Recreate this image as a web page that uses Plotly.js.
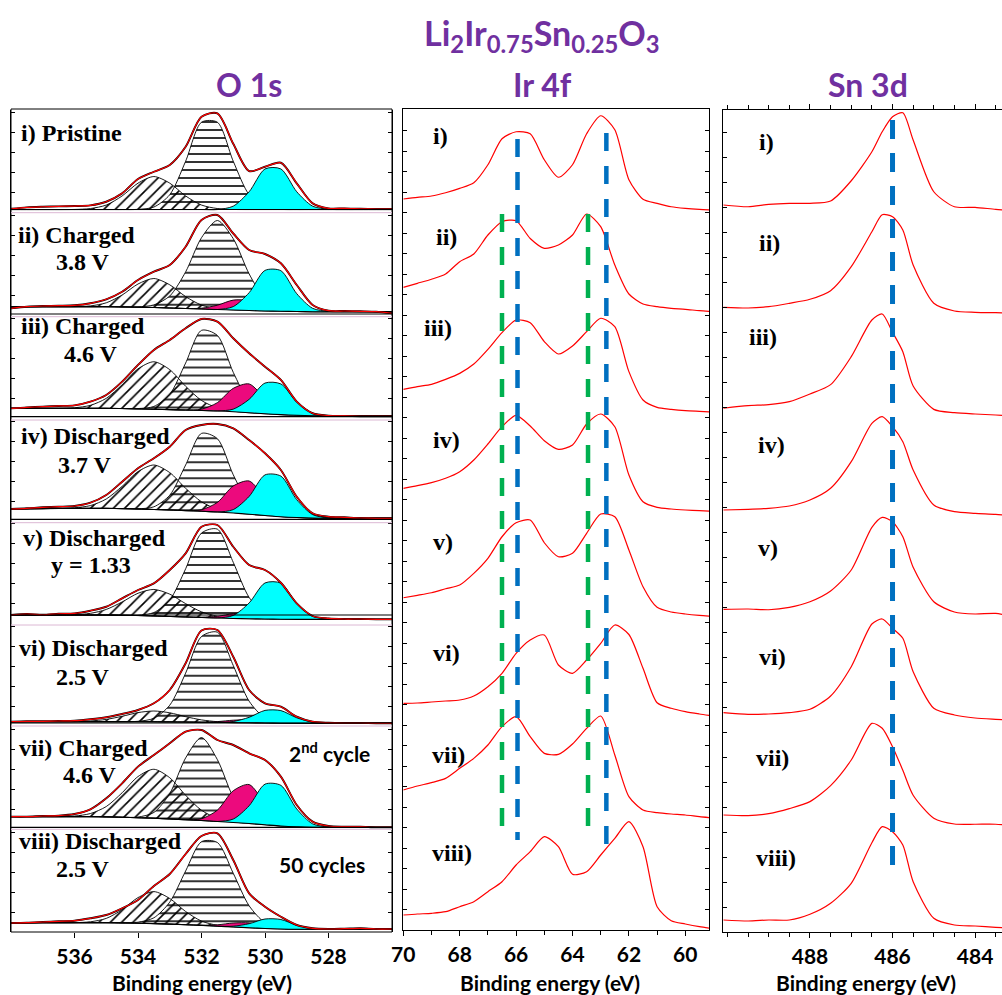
<!DOCTYPE html>
<html><head><meta charset="utf-8">
<script src="https://cdn.plot.ly/plotly-3.0.1.min.js"></script>
<style>html,body{margin:0;padding:0;overflow:hidden;background:#fff;width:1002px;height:995px}#chart{width:1040px;height:995px}</style>
</head><body><div id="chart"></div><script>
// ---------------- DATA ----------------
const oEnergy = [538,537.5,537,536.5,536,535.5,535,534.5,534,533.5,533,532.5,532,531.5,531,530.5,530,529.5,529,528.5,528,527.5,527,526.5,526];
const o1sData = [
 [4,5.4,6,6.4,6.7,7.4,11,19.4,33.7,41,47.8,66,96,99.4,69,41.7,46,50,29.4,9.4,4.4,4.4,4,3.7,3.7],
 [7.2,8.8,9.5,9.8,10.2,12.2,16.2,23.8,35.5,43.8,50.5,68.8,95.5,100.5,82,65.5,61.5,52.2,30.5,10.5,4.8,4.5,4.2,3.8,2.2],
 [9.9,10.9,11.6,12.3,12.9,16.6,23.3,36.6,53.3,68.3,78.3,90,99.3,96.6,80,65,51.6,38.3,16.6,5,2.6,2.3,2,2,2],
 [12,12.7,13.7,14.3,15,18.3,26,39.3,52.7,62.7,74.3,91,96,97,92.7,81,67.7,51,24.3,7.7,4.3,3.7,3,2.7,2.7],
 [8.75,9.75,9,10,10.4,13,17,25.4,33.75,40.4,53.75,70.4,97,98.75,77,58.75,53.75,41,20.4,7.75,5.4,4.75,4.75,4.4,4.4],
 [4.8,5.2,5.2,5.5,5.8,7.2,9.2,12.5,16.5,23.2,36.5,63.2,96,96.5,69.8,36.5,23.2,19.8,9.8,4.8,3.8,3.5,3.5,3.2,3.2],
 [12.6,12.6,13.25,13.6,15.25,19.9,30.9,45.9,62.6,74.25,85.9,97.6,99.25,89.25,84.25,75.9,69.25,52.6,24.25,7.6,3.25,2.6,2.6,1.9,1.9],
 [9,9.3,10,10.7,11.3,13.7,17,23.7,32,46,58,78,96,98.7,72,38.7,25.3,15.3,7,3.7,3,3.3,3.7,3,3]
];
const o1sBg = [
 [3.2,3.2,3.2,3.2,3.2,3.2,3.2,3.2,3.2,3.2,3.2,3.2,3.2,3.2,3.2,3.2,3.2,3.2,3.2,3.2,3.2,3.2,3.2,3.2,3.2],
 [8.8,8.8,8.8,8.8,8.8,8.8,8.8,8.6,8.3,8,7.5,7,6.5,6,5.5,5,4.5,4.2,4,3.8,3.8,3.8,3.8,3.8,3.8],
 [9.9,9.9,9.9,9.9,9.9,9.9,9.9,9.7,9.4,9,8.6,8.2,7.8,7.3,6.5,5.5,4.5,3.6,3,2.5,2.3,2.3,2.3,2.3,2.3],
 [12,12.2,12.4,12.5,12.6,12.6,12.6,12.4,12,11.5,11,10.4,9.8,9,8,6.8,5.5,4.3,3.5,3,2.7,2.7,2.7,2.7,2.7],
 [8.7,8.7,8.7,8.7,8.7,8.7,8.7,8.5,8.2,7.8,7.3,6.8,6.3,5.8,5.3,5,4.7,4.5,4.4,4.4,4.4,4.4,4.4,4.4,4.4],
 [4.8,4.8,4.8,4.8,4.8,4.8,4.8,4.8,4.8,4.7,4.6,4.45,4.3,4.1,3.9,3.7,3.5,3.3,3.2,3.2,3.2,3.2,3.2,3.2,3.2],
 [12.6,12.6,12.6,12.6,12.6,12.6,12.4,12,11.5,11,10.3,9.5,8.7,7.8,6.8,5.7,4.5,3.3,2.5,2,1.9,1.9,1.9,1.9,1.9],
 [9.3,9.3,9.3,9.3,9.3,9.3,9.3,9.1,8.8,8.4,7.9,7.3,6.6,5.8,5,4.2,3.5,3,2.7,2.7,2.7,2.7,2.7,2.7,2.7]
];
const o1sDiag = [
 [0,0,0,0,0.1,1,4.5,13.6,26.4,33,26.4,13.6,4.5,1,0.1,0,0,0,0,0,0,0,0,0,0],
 [0,0,0,0,0.1,0.8,3.9,11.9,23.2,29,23.2,11.9,3.9,0.8,0.1,0,0,0,0,0,0,0,0,0,0],
 [0,0,0,0,0.6,3,10,23.8,40,47.5,40,23.8,10,3,0.6,0,0,0,0,0,0,0,0,0,0],
 [0,0,0,0,0.6,2.8,9.4,22.3,37.4,44.5,37.4,22.3,9.4,2.8,0.6,0,0,0,0,0,0,0,0,0,0],
 [0,0,0,0,0.3,1.7,5.6,13.3,22.3,26.5,22.3,13.3,5.6,1.7,0.3,0,0,0,0,0,0,0,0,0,0],
 [0,0,0,0,0.1,0.7,2.3,5.4,9.1,10.8,9.1,5.4,2.3,0.7,0.1,0,0,0,0,0,0,0,0,0,0],
 [0,0,0,0,0.6,3.1,10.3,24.5,41.2,49,41.2,24.5,10.3,3.1,0.6,0,0,0,0,0,0,0,0,0,0],
 [0,0,0,0,0.1,0.9,4.3,13.2,25.6,32,25.6,13.2,4.3,0.9,0.1,0,0,0,0,0,0,0,0,0,0]
];
const o1sHoriz = [
 [0,0,0,0,0,0,0,0,0.2,2.5,14.8,48.3,87.3,87.3,48.3,14.8,2.5,0.2,0,0,0,0,0,0,0],
 [0,0,0,0,0,0,0,0,0.4,2.6,12,36.6,71.3,89,71.3,36.6,12,2.6,0.4,0,0,0,0,0,0],
 [0,0,0,0,0,0,0,0,0.3,2.8,15.3,47,80.1,75.5,39.4,11.4,1.8,0.2,0,0,0,0,0,0,0],
 [0,0,0,0,0,0,0,0,0.2,2.7,14.8,45.6,77.8,73.3,38.2,11,1.8,0.2,0,0,0,0,0,0,0],
 [0,0,0,0,0,0,0,0,0.4,3.4,16.5,48.1,84.4,88.8,56.1,21.3,4.8,0.7,0,0,0,0,0,0,0],
 [0,0,0,0,0,0,0,0,0.4,3.5,16.7,48.9,85.7,90.2,57.1,21.6,4.9,0.7,0,0,0,0,0,0,0],
 [0,0,0,0,0,0,0,0,0.7,5.8,25.4,61.8,83,61.8,25.4,5.8,0.7,0,0,0,0,0,0,0,0],
 [0,0,0,0,0,0,0,0.1,1,5.8,22,53.7,83.7,83.7,53.7,22,5.8,1,0.1,0,0,0,0,0,0]
];
const o1sMag = [
 [0,0,0,0,0,0,0,0,0,0,0,0,0,0,0,0,0,0,0,0,0,0,0,0,0],
 [0,0,0,0,0,0,0,0,0,0,0,0,0.8,4.3,9.9,9.9,4.3,0.8,0,0,0,0,0,0,0],
 [0,0,0,0,0,0,0,0,0,0,0,0,1.3,8.3,23.4,28.8,15.5,3.7,0.4,0,0,0,0,0,0],
 [0,0,0,0,0,0,0,0,0,0,0,0,1.5,9.6,27,33.2,17.8,4.2,0.4,0,0,0,0,0,0],
 [0,0,0,0,0,0,0,0,0,0,0,0,0.3,1.7,4.8,5.9,3.1,0.7,0.1,0,0,0,0,0,0],
 [0,0,0,0,0,0,0,0,0,0,0,0,0,0.8,2.4,2.9,1.6,0.4,0,0,0,0,0,0,0],
 [0,0,0,0,0,0,0,0,0,0,0,0,1.8,11.3,31.7,39,21,5,0.5,0,0,0,0,0,0],
 [0,0,0,0,0,0,0,0,0,0,0,0,0.2,1.4,4,4.9,2.6,0.6,0.1,0,0,0,0,0,0]
];
const o1sCyan = [
 [0,0,0,0,0,0,0,0,0,0,0,0,0,0,3.4,17.8,40.6,40.6,17.8,3.4,0.3,0,0,0,0],
 [0,0,0,0,0,0,0,0,0,0,0,0,0,0,3.4,17.8,40.6,40.6,17.8,3.4,0.3,0,0,0,0],
 [0,0,0,0,0,0,0,0,0,0,0,0,0,0,2.6,13.4,30.7,30.7,13.4,2.6,0.2,0,0,0,0],
 [0,0,0,0,0,0,0,0,0,0,0,0,0,0,3.4,17.8,40.6,40.6,17.8,3.4,0.3,0,0,0,0],
 [0,0,0,0,0,0,0,0,0,0,0,0,0,0,3,15.8,36.1,36.1,15.8,3,0.2,0,0,0,0],
 [0,0,0,0,0,0,0,0,0,0,0,0,0,0,1.1,5.5,12.6,12.6,5.5,1.1,0.1,0,0,0,0],
 [0,0,0,0,0,0,0,0,0,0,0,0,0,0,3.4,17.8,40.6,40.6,17.8,3.4,0.3,0,0,0,0],
 [0,0,0,0,0,0,0,0,0,0,0,0,0,0,0.8,4.1,9.5,9.5,4.1,0.8,0.1,0,0,0,0]
];
const o1sTicks = [536,534,532,530,528];
const o1sLabels = ['i) Pristine','ii) Charged','iii) Charged','iv) Discharged','v) Discharged','vi) Discharged','vii) Charged','viii) Discharged'];
const o1sSubLabels = ['','3.8 V','4.6 V','3.7 V','y = 1.33','2.5 V','4.6 V','2.5 V'];
const o1sNotes = ['2<sup>nd</sup> cycle','50 cycles'];

const irEnergy = [70,69.5,69,68.5,68,67.5,67,66.5,66,65.5,65,64.5,64,63.5,63,62.5,62,61.5,61,60.5,60,59.5,59];
const irSpectra = [
 [13.75,15.4,16.75,20,24.4,30,48,74,81,79,53,35.5,48,79,97,83,33,13.5,9.4,6,4.4,3.4,2.75],
 [28.2,32.2,36.2,41.5,53.8,61.5,80.5,93.8,94.8,77,67.2,70.5,80.5,101.5,88.8,50.5,21.5,11.5,8.8,7.2,6.2,4.8,3.8],
 [28.9,31.6,33.9,38.9,44.9,54.2,68.9,85.6,98.25,95.6,76.6,64.25,72.25,86.6,100,91.6,46.6,18.25,10.9,8.9,7.6,6.9,6.25],
 [32.7,35.3,38.3,42.7,49.3,61,77,94.3,105.7,95,80.3,71.7,76,97,107,94.3,46,19.3,13.7,12,11,10.3,9.7],
 [26,28.4,31,35,38.75,50.4,65.4,87,101,103.75,81,67,70.4,90.4,109.75,107,73.75,37,16.4,11.75,9.75,8.4,7.4],
 [23.2,23.5,24.5,25.5,26.5,30.5,39.8,53.2,73.2,86.5,91.5,61.5,53.2,66.5,83.2,101.5,92,58.2,23.8,18.2,14.8,12.5,10.5],
 [39.25,43.25,46.6,50.9,60.9,70.9,84.25,102.6,112.6,92.6,75.9,74.9,85.25,100.9,113.25,74.25,32.6,19.25,16.6,15.25,14.25,12.6,11.25],
 [17,18,18.7,20.3,25.3,30.3,40.3,50.3,67,80.3,95.3,85.3,57.7,60.3,77,93.7,110.3,85.3,25.3,11.3,8,5.3,3.3]
];
const irTicks = [70,68,66,64,62,60];
const irBlueLines = [65.95, 62.8];
const irGreenLines = [66.5, 63.45];

const snEnergy = [490.1,489.5,489,488.5,488,487.5,487,486.5,486.25,486,485.75,485.5,485,484.5,484,483.5,483];
const snSpectra = [
 [7.75,6,8.4,9.4,9.4,11.75,32,61,81,96,100,72.75,21,6,5.4,3.4,2],
 [8.2,7.5,8.8,12.2,16.2,24.8,48.8,83.8,100.8,98.8,85.5,50.5,12.2,4.5,3.2,2.8,2.5],
 [10,12.6,13.6,16.6,24.25,33.6,61.6,98.25,104.25,86,66.6,32.25,8.9,5.6,4.25,3.25,2.25],
 [11,11.7,12.7,15,21,32.7,59.3,97.7,104.3,94.3,79.3,51,16,9.3,7.7,6.7,5],
 [14.4,14.75,14,16.4,22,32.75,53.75,96.4,106.4,102,87,56.4,22,11.75,9.75,10.4,6.4],
 [13.8,12.2,12.5,13.8,17.2,30.5,59.8,102.5,107.5,98.2,88.2,54.8,18.2,11.5,8.5,7.2,6.2],
 [14.25,13.6,15.6,20.6,27.6,43.6,69.25,105.9,101,82.6,59,34,11,5.25,5,5,3.25],
 [12,11,12,12,17.7,28.7,48.7,89.3,105.3,100.3,87,50.3,13.7,7,6,4.7,3.7]
];
const snTicks = [488,486,484];
const snBlueLines = [486.0];
const romanLabels = ['i)','ii)','iii)','iv)','v)','vi)','vii)','viii)'];
const axisTitle = 'Binding energy (eV)';

// ---------------- LAYOUT / STYLE ----------------
const W = 1040, H = 995;
const px2x = p => p / W;
const px2y = p => 1 - p / H;
const sliceTop = 110, sliceH = 102.75;
const SANS = 'Lato, "Open Sans", sans-serif';
const SERIF = '"Liberation Serif", "Times New Roman", serif';
const PURPLE = '#7030A0';
const tickFont = {family: SANS, size: 21, color: '#000', weight: 700};
const axTitleFont = {family: SANS, size: 21, color: '#000', weight: 700};
const labFont = {family: SERIF, size: 24, color: '#000', weight: 700};

const traces = [];
const shapes = [];
const annotations = [];
const layout = {
  width: W, height: H, margin: {l: 0, r: 0, t: 0, b: 0},
  paper_bgcolor: '#fff', plot_bgcolor: 'rgba(0,0,0,0)', showlegend: false,
  shapes: shapes, annotations: annotations
};

// ---- O 1s panel ----
layout.xaxis = {
  domain: [px2x(11), px2x(392)], range: [538, 526], anchor: 'y8',
  tickmode: 'array', tickvals: o1sTicks, ticks: 'outside', ticklen: 5, tickcolor: '#000',
  showline: false, showgrid: false, zeroline: false, tickfont: tickFont, ticklabelstandoff: 1
};
const spl = {shape: 'spline', smoothing: 0.8};
for (let k = 0; k < 8; k++) {
  const B = sliceTop + (k + 1) * sliceH;
  const yname = k === 0 ? 'yaxis' : 'yaxis' + (k + 1);
  const yref = k === 0 ? 'y' : 'y' + (k + 1);
  layout[yname] = {
    domain: [px2y(B), px2y(B - sliceH)], range: [0, sliceH], anchor: 'x',
    showticklabels: false, ticks: 'inside', ticklen: 4, tick0: 0, dtick: 20, tickcolor: '#000',
    showline: true, linecolor: '#000', linewidth: 1, mirror: 'ticks',
    showgrid: false, zeroline: false, fixedrange: true
  };
  const bg = o1sBg[k];
  const comps = [
    {vals: o1sHoriz[k], style: {fillcolor: 'rgba(0,0,0,0)', fillpattern: {shape: '-', fgcolor: '#000', bgcolor: 'rgba(255,255,255,0)', size: 8, solidity: 0.2}}},
    {vals: o1sDiag[k], style: {fillcolor: 'rgba(0,0,0,0)', fillpattern: {shape: '/', fgcolor: '#000', bgcolor: 'rgba(255,255,255,0)', size: 8, solidity: 0.2}}},
    {vals: o1sMag[k], style: {fillcolor: '#ec0a7d'}},
    {vals: o1sCyan[k], style: {fillcolor: '#00ffff'}}
  ];
  comps.forEach(c => {
    if (c.vals.every(v => v === 0)) return;
    traces.push({x: oEnergy, y: bg, xaxis: 'x', yaxis: yref, mode: 'lines',
      line: Object.assign({width: 0, color: 'rgba(0,0,0,0)'}, spl), hoverinfo: 'skip'});
    traces.push(Object.assign({x: oEnergy, y: bg.map((b, i) => b + c.vals[i]), xaxis: 'x', yaxis: yref,
      mode: 'lines', fill: 'tonexty', line: Object.assign({color: '#000', width: 0.9}, spl), hoverinfo: 'skip'}, c.style));
  });
  traces.push({x: oEnergy, y: bg, xaxis: 'x', yaxis: yref, mode: 'lines', line: Object.assign({color: '#000', width: 1.1}, spl), hoverinfo: 'skip'});
  traces.push({x: oEnergy, y: o1sData[k], xaxis: 'x', yaxis: yref, mode: 'lines', line: Object.assign({color: '#000', width: 1.9}, spl), hoverinfo: 'skip'});
  traces.push({x: oEnergy, y: o1sData[k], xaxis: 'x', yaxis: yref, mode: 'lines', line: Object.assign({color: '#ff0000', width: 1.2}, spl), name: o1sLabels[k]});
}
// O1s box + separators
shapes.push({type: 'rect', xref: 'paper', yref: 'paper', x0: px2x(11), x1: px2x(392), y0: px2y(932), y1: px2y(109), line: {color: '#000', width: 1}});
[209.5, 314, 416.7, 519.3, 615, 723, 827.3].forEach(p => shapes.push({type: 'line', xref: 'paper', yref: 'paper', x0: px2x(11), x1: px2x(392), y0: px2y(p), y1: px2y(p), line: {color: '#000', width: 1.2}}));
[212.7, 316.7, 420, 522.7, 625, 726, 829.3].forEach(p => shapes.push({type: 'line', xref: 'paper', yref: 'paper', x0: px2x(11), x1: px2x(392), y0: px2y(p), y1: px2y(p), line: {color: '#dcb8d4', width: 1}}));

const o1sLabelPos = [[20,140],[17,241.7],[20,333],[20,443],[22,545],[18,655],[18,755],[18,848]];
const o1sSubPos = [null,[55,269],[63,361],[57,472],[50,572],[55,684],[62,782],[55,876]];
o1sLabels.forEach((t, k) => {
  annotations.push({text: t, xref: 'paper', yref: 'paper', x: px2x(o1sLabelPos[k][0]), y: px2y(o1sLabelPos[k][1] - 7), xanchor: 'left', yanchor: 'middle', showarrow: false, font: labFont, borderpad: 0});
  if (o1sSubLabels[k]) annotations.push({text: o1sSubLabels[k], xref: 'paper', yref: 'paper', x: px2x(o1sSubPos[k][0]), y: px2y(o1sSubPos[k][1] - 7), xanchor: 'left', yanchor: 'middle', showarrow: false, font: labFont, borderpad: 0});
});
annotations.push({text: o1sNotes[0], xref: 'paper', yref: 'paper', x: px2x(329.5), y: px2y(752), xanchor: 'center', yanchor: 'middle', showarrow: false, font: {family: SANS, size: 21, color: '#000', weight: 700}});
annotations.push({text: o1sNotes[1], xref: 'paper', yref: 'paper', x: px2x(322), y: px2y(864), xanchor: 'center', yanchor: 'middle', showarrow: false, font: {family: SANS, size: 21, color: '#000', weight: 700}});

// ---- Ir 4f panel ----
layout.xaxis2 = {
  domain: [px2x(403.3), px2x(709)], range: [70, 59.16], anchor: 'y9',
  tickmode: 'array', tickvals: irTicks, ticks: 'outside', ticklen: 5, tickcolor: '#000',
  minor: {dtick: 1, tick0: 60, ticks: 'outside', ticklen: 4, tickcolor: '#000'},
  showline: true, mirror: true, linecolor: '#000', linewidth: 1,
  showgrid: false, zeroline: false, tickfont: tickFont, ticklabelstandoff: 1
};
layout.yaxis9 = {
  domain: [px2y(930), px2y(109)], range: [0, 821], anchor: 'x2',
  showticklabels: false, ticks: 'inside', ticklen: 4, tick0: 0, dtick: 20.5, tickcolor: '#000',
  showline: true, linecolor: '#000', mirror: 'ticks', showgrid: false, zeroline: false
};
irSpectra.forEach((s, k) => {
  const off = 717.25 - k * sliceH;
  traces.push({x: irEnergy, y: s.map(v => v + off), xaxis: 'x2', yaxis: 'y9', mode: 'lines',
    line: {color: '#ff0000', width: 1.2, shape: 'spline', smoothing: 0.7}, name: romanLabels[k]});
});
const dashPat = '18px,15px';
irBlueLines.forEach((e, i) => shapes.push({type: 'line', xref: 'x2', yref: 'paper', x0: e, x1: e, y0: px2y(i === 0 ? 139 : 133), y1: px2y(i === 0 ? 840 : 844), line: {color: '#0070C0', width: 4.5, dash: dashPat}}));
irGreenLines.forEach(e => shapes.push({type: 'line', xref: 'x2', yref: 'paper', x0: e, x1: e, y0: px2y(214), y1: px2y(828), line: {color: '#00B050', width: 4.5, dash: dashPat}}));
const irLabelPos = [[431.7,136],[435,236.7],[423.3,328.3],[432.3,440],[431.7,541.7],[431.7,653.3],[431,755],[431,853.3]];
romanLabels.forEach((t, k) => annotations.push({text: t, xref: 'paper', yref: 'paper', x: px2x(irLabelPos[k][0]), y: px2y(irLabelPos[k][1]), xanchor: 'left', yanchor: 'middle', showarrow: false, font: labFont, borderpad: 0}));

// ---- Sn 3d panel ----
layout.xaxis3 = {
  domain: [px2x(723.3), px2x(1025)], range: [490.1, 482.79], anchor: 'y10',
  tickmode: 'array', tickvals: snTicks, ticks: 'outside', ticklen: 5, tickcolor: '#000',
  minor: {dtick: 0.5, tick0: 484, ticks: 'outside', ticklen: 4, tickcolor: '#000'},
  showline: true, mirror: 'ticks', linecolor: '#000', linewidth: 1,
  showgrid: false, zeroline: false, tickfont: tickFont, ticklabelstandoff: 1
};
layout.yaxis10 = {
  domain: [px2y(932), px2y(110)], range: [0, 822], anchor: 'x3',
  showticklabels: false, ticks: 'inside', ticklen: 4, tick0: 0, dtick: 25, tickcolor: '#000',
  showline: true, linecolor: '#000', mirror: 'ticks', showgrid: false, zeroline: false
};
snSpectra.forEach((s, k) => {
  const off = 719.25 - k * sliceH;
  traces.push({x: snEnergy, y: s.map(v => v + off), xaxis: 'x3', yaxis: 'y10', mode: 'lines',
    line: {color: '#ff0000', width: 1.2, shape: 'spline', smoothing: 0.7}, name: romanLabels[k]});
});
snBlueLines.forEach(e => shapes.push({type: 'line', xref: 'x3', yref: 'paper', x0: e, x1: e, y0: px2y(120), y1: px2y(866), line: {color: '#0070C0', width: 5, dash: '19px,14px'}}));
const snLabelPos = [[758.3,141.7],[758.3,243.3],[748.3,336.7],[756.7,445],[756.7,548.3],[758.3,656.7],[755,758.3],[755,858.3]];
romanLabels.forEach((t, k) => annotations.push({text: t, xref: 'paper', yref: 'paper', x: px2x(snLabelPos[k][0]), y: px2y(snLabelPos[k][1]), xanchor: 'left', yanchor: 'middle', showarrow: false, font: labFont, borderpad: 0}));

// ---- axis titles (x) ----
[[201.7], [550], [866]].forEach(([x]) => annotations.push({text: axisTitle, xref: 'paper', yref: 'paper', x: px2x(x), y: px2y(982), xanchor: 'center', yanchor: 'middle', showarrow: false, font: axTitleFont, borderpad: 0}));

// ---- Titles ----
annotations.push({text: 'Li<sub>2</sub>Ir<sub>0.75</sub>Sn<sub>0.25</sub>O<sub>3</sub>', xref: 'paper', yref: 'paper', x: px2x(541.5), y: px2y(35), xanchor: 'center', yanchor: 'middle', showarrow: false, font: {family: SANS, size: 34, color: PURPLE, weight: 700}});
[['O 1s', 249], ['Ir 4f', 542.5], ['Sn 3d', 868]].forEach(([t, x]) => annotations.push({text: t, xref: 'paper', yref: 'paper', x: px2x(x), y: px2y(84), xanchor: 'center', yanchor: 'middle', showarrow: false, font: {family: SANS, size: 32, color: PURPLE, weight: 700}}));

Plotly.newPlot('chart', traces, layout, {staticPlot: true, displayModeBar: false});
</script></body></html>
